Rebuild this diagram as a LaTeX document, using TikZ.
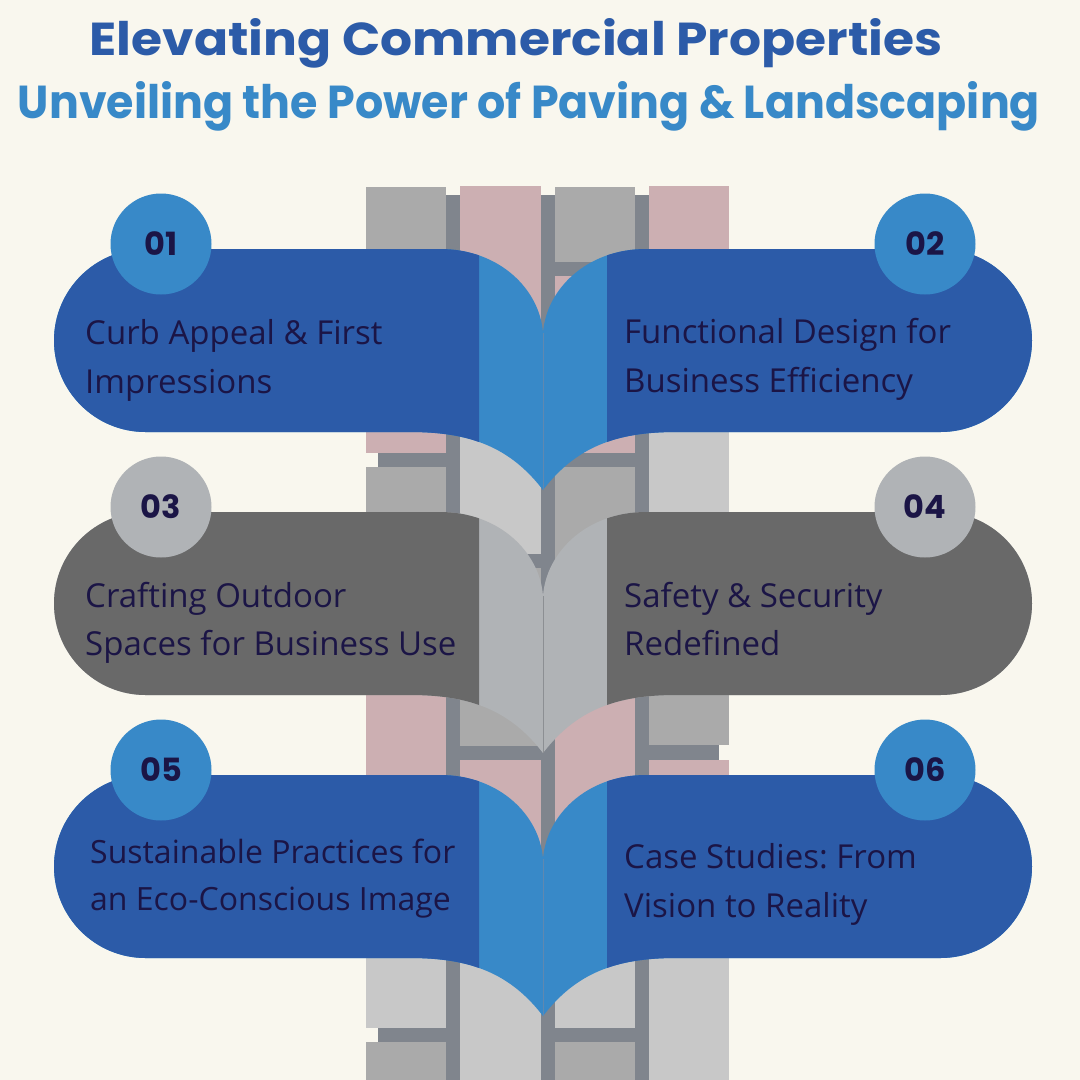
\documentclass[tikz,border=0pt]{standalone}
\usepackage{fontspec}
\usepackage{graphicx}
\setmainfont{Open Sans}
\newfontfamily\titlefont{Poppins}
\frenchspacing
\definecolor{bg}{HTML}{F9F7EE}
\definecolor{dblue}{HTML}{2C5BA8}
\definecolor{lblue}{HTML}{3889C8}
\definecolor{dgrey}{HTML}{696969}
\definecolor{lgrey}{HTML}{B0B3B6}
\definecolor{navy}{HTML}{1B1546}
\definecolor{mortar}{HTML}{80858D}
\definecolor{brickG}{HTML}{AAAAAA}
\definecolor{brickP}{HTML}{CCAFB2}
\definecolor{brickL}{HTML}{C8C8C8}
\definecolor{seamblue}{HTML}{5F88B0}
\definecolor{seamgrey}{HTML}{8C8F93}
\tikzset{
  numcircle/.style={circle, minimum size=101pt, inner sep=0pt, text=navy,
    font=\titlefont\bfseries\fontsize{32}{32}\selectfont},
  bodytext/.style={anchor=base west, inner sep=0pt, text=navy,
    font=\fontsize{33}{33}\selectfont},
  smalltext/.style={bodytext, font=\fontsize{32}{32}\selectfont}
}
% #1 = top y, #2 = page colour, #3 = flap colour, #4 = seam colour
\newcommand\drawleaf[4]{%
  \begin{scope}[shift={(0,#1)}]
    \fill[#3] (145.5,0) -- (440,0) .. controls (500,0) and (540,41) .. (543,84)
      -- (543,241) .. controls (510,198) and (470,183) .. (410,183)
      -- (145.5,183) .. controls (95,183) and (54,142) .. (54,91.5)
      .. controls (54,41) and (95,0) .. (145.5,0) -- cycle;
    \begin{scope}
      \clip (0,-10) rectangle (479,260);
      \fill[#2] (145.5,0) -- (440,0) .. controls (500,0) and (540,41) .. (543,84)
        -- (543,241) .. controls (510,198) and (470,183) .. (410,183)
        -- (145.5,183) .. controls (95,183) and (54,142) .. (54,91.5)
        .. controls (54,41) and (95,0) .. (145.5,0) -- cycle;
    \end{scope}
    \draw[#4, line width=0.8pt] (543,84) -- (543,241);
  \end{scope}}
\begin{document}
\begin{tikzpicture}[x=1pt,y=-1pt]
\fill[bg] (0,0) rectangle (1080,1080);
\useasboundingbox (0,0) rectangle (1080,1080);

% mortar
\fill[mortar] (378,195) rectangle (719,1080);
% column 1
\fill[brickG] (366,187) rectangle (446,300);
\fill[brickP] (366,314) rectangle (446,453);
\fill[brickG] (366,467) rectangle (446,600);
\fill[brickP] (366,614) rectangle (446,880);
\fill[brickL] (366,894) rectangle (446,1028);
\fill[brickG] (366,1042) rectangle (446,1080);
% column 2
\fill[brickP] (460,186) rectangle (541,380);
\fill[brickL] (460,394) rectangle (541,554);
\fill[brickG] (460,568) rectangle (541,746);
\fill[brickP] (460,760) rectangle (541,900);
\fill[brickL] (460,914) rectangle (541,1080);
% column 3
\fill[brickG] (555,187) rectangle (635,262);
\fill[brickP] (555,276) rectangle (635,453);
\fill[brickG] (555,467) rectangle (635,640);
\fill[brickP] (555,654) rectangle (635,900);
\fill[brickL] (555,914) rectangle (635,1028);
\fill[brickG] (555,1042) rectangle (635,1080);
% column 4
\fill[brickP] (649,186) rectangle (729,340);
\fill[brickL] (649,354) rectangle (729,600);
\fill[brickG] (649,614) rectangle (729,745);
\fill[brickP] (649,760) rectangle (729,890);
\fill[brickL] (649,904) rectangle (729,1080);

% leaves (left)
\drawleaf{249}{dblue}{lblue}{seamblue}
\drawleaf{512}{dgrey}{lgrey}{seamgrey}
\drawleaf{775}{dblue}{lblue}{seamblue}
% leaves (right, mirrored)
\begin{scope}[xshift=1086pt, xscale=-1]
\drawleaf{249}{dblue}{lblue}{seamblue}
\drawleaf{512}{dgrey}{lgrey}{seamgrey}
\drawleaf{775}{dblue}{lblue}{seamblue}
\end{scope}

% number circles
\node[numcircle, fill=lblue] (n1) at (161,244) {01};
\node[numcircle, fill=lblue] (n2) at (925,244) {02};
\node[numcircle, fill=lgrey] (n3) at (161,507) {03};
\node[numcircle, fill=lgrey] (n4) at (925,507) {04};
\node[numcircle, fill=lblue] (n5) at (161,770) {05};
\node[numcircle, fill=lblue] (n6) at (925,770) {06};

% titles
\node[anchor=base, inner sep=0pt, text=dblue] (title) at (516,55)
  {\resizebox{853pt}{37pt}{\titlefont\bfseries Elevating Commercial Properties}};
\node[anchor=base, inner sep=0pt, text=lblue] (subtitle) at (529,118)
  {\resizebox{1022pt}{37pt}{\titlefont\bfseries Unveiling the Power of Paving \& Landscaping}};

% texts
\node[bodytext] (t1a) at (85,344) {Curb Appeal \& First};
\node[bodytext] (t1b) at (85,393) {Impressions};
\node[bodytext] (t2a) at (624,343) {Functional Design for};
\node[bodytext] (t2b) at (624,392) {Business Efficiency};
\node[bodytext] (t3a) at (85,607) {Crafting Outdoor};
\node[bodytext] (t3b) at (85,655) {Spaces for Business Use};
\node[bodytext] (t4a) at (624,607) {Safety \& Security};
\node[bodytext] (t4b) at (624,655) {Redefined};
\node[smalltext] (t5a) at (90,863) {Sustainable Practices for};
\node[smalltext] (t5b) at (90,910) {an Eco-Conscious Image};
\node[bodytext] (t6a) at (624,868) {Case Studies: From};
\node[bodytext] (t6b) at (624,917) {Vision to Reality};
\end{tikzpicture}
\end{document}
